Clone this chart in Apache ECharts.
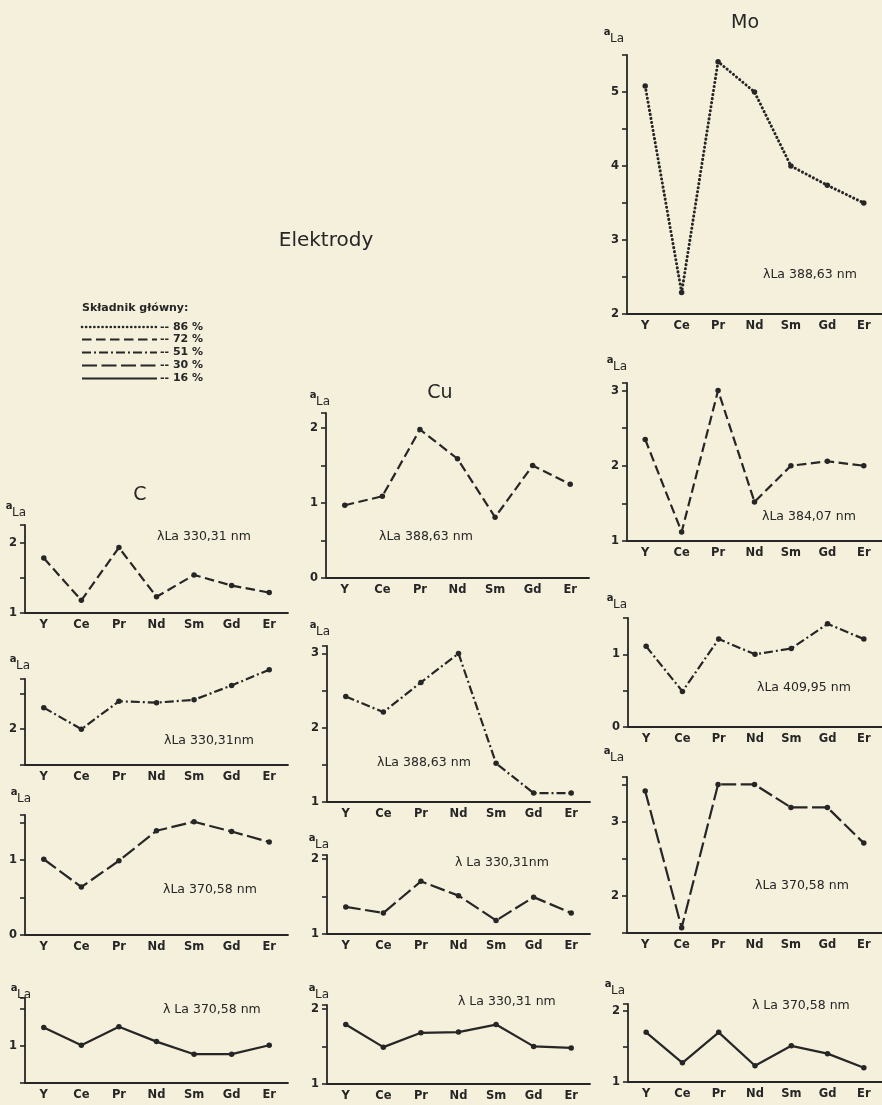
<!DOCTYPE html>
<html>
<head>
<meta charset="utf-8">
<script src="https://cdn.jsdelivr.net/npm/echarts@6/dist/echarts.min.js"></script>
<style>
  html, body { margin: 0; padding: 0; background: #f4f0dc; }
  #chart { width: 882px; height: 1105px; }
</style>
</head>
<body>
<div id="chart"></div>
<script>
// Rare-earth elements on the x axis
const elements = ['Y', 'Ce', 'Pr', 'Nd', 'Sm', 'Gd', 'Er'];

// a_La values, molybdenum electrodes
const moLa388 = [5.08, 2.29, 5.41, 5.00, 4.00, 3.74, 3.50];
const moLa384 = [2.35, 1.12, 3.00, 1.52, 2.00, 2.06, 2.00];
const moLa409 = [1.11, 0.49, 1.21, 1.00, 1.08, 1.42, 1.21];
const moLa370a = [3.41, 1.57, 3.50, 3.50, 3.19, 3.19, 2.71];
const moLa370b = [1.70, 1.27, 1.70, 1.23, 1.51, 1.40, 1.20];

// a_La values, copper electrodes
const cuLa388a = [0.97, 1.09, 1.98, 1.59, 0.81, 1.50, 1.25];
const cuLa388b = [2.42, 2.21, 2.61, 3.00, 1.52, 1.12, 1.12];
const cuLa330a = [1.36, 1.28, 1.70, 1.51, 1.18, 1.49, 1.28];
const cuLa330b = [1.79, 1.49, 1.68, 1.69, 1.79, 1.50, 1.48];

// a_La values, carbon electrodes
const cLa330a = [1.78, 1.18, 1.93, 1.23, 1.54, 1.39, 1.29];
const cLa330b = [2.30, 2.00, 2.39, 2.37, 2.41, 2.61, 2.83];
const cLa370a = [1.01, 0.64, 0.99, 1.39, 1.51, 1.38, 1.24];
const cLa370b = [1.25, 1.01, 1.26, 1.06, 0.89, 0.89, 1.01];

// Main-component shares shown in the key, one per line style
const shares = ['86 %', '72 %', '51 %', '30 %', '16 %'];
const shareStyles = ['dot', 'dash', 'dashDot', 'longDash', 'solid'];

const INK = '#262626';
const FONT = 'DejaVu Sans';

const lineStyles = {
  dot:      { type: [0.1, 4], cap: 'round', width: 3 },
  dash:     { type: [9.5, 4.5], width: 2.2 },
  dashDot:  { type: [9, 3, 2, 3], width: 2.2 },
  longDash: { type: [15, 4.5], width: 2.2 },
  solid:    { type: 'solid', width: 2.2 }
};

// Panel layout: plot box, y range, line style and annotations
const panels = [
  { data: moLa388,  style: 'dot',      left: 627, top: 55,   height: 259, min: 2,   max: 5.5,  lambda: 'λLa 388,63 nm',  lx: 763, ly: 275,  ax: 607, ay: 32 },
  { data: moLa384,  style: 'dash',     left: 627, top: 383,  height: 158, min: 1,   max: 3.1,  lambda: 'λLa 384,07 nm',  lx: 762, ly: 517,  ax: 610, ay: 360 },
  { data: moLa409,  style: 'dashDot',  left: 628, top: 618,  height: 109, min: 0,   max: 1.5,  lambda: 'λLa 409,95 nm',  lx: 757, ly: 688,  ax: 610, ay: 598 },
  { data: moLa370a, style: 'longDash', left: 627, top: 777,  height: 156, min: 1.5, max: 3.6,  lambda: 'λLa 370,58 nm',  lx: 755, ly: 886,  ax: 607, ay: 751 },
  { data: moLa370b, style: 'solid',    left: 628, top: 1004, height: 78,  min: 1,   max: 2.1,  lambda: 'λ La 370,58 nm', lx: 752, ly: 1006, ax: 608, ay: 984 },
  { data: cuLa388a, style: 'dash',     left: 326, top: 413,  height: 165, min: 0,   max: 2.2,  lambda: 'λLa 388,63 nm',  lx: 379, ly: 537,  ax: 313, ay: 395 },
  { data: cuLa388b, style: 'dashDot',  left: 327, top: 646,  height: 156, min: 1,   max: 3.1,  lambda: 'λLa 388,63 nm',  lx: 377, ly: 763,  ax: 313, ay: 625 },
  { data: cuLa330a, style: 'longDash', left: 327, top: 855,  height: 79,  min: 1,   max: 2.05, lambda: 'λ La 330,31nm',  lx: 455, ly: 863,  ax: 312, ay: 838 },
  { data: cuLa330b, style: 'solid',    left: 327, top: 1005, height: 79,  min: 1,   max: 2.05, lambda: 'λ La 330,31 nm', lx: 458, ly: 1002, ax: 312, ay: 988 },
  { data: cLa330a,  style: 'dash',     left: 25,  top: 525,  height: 88,  min: 1,   max: 2.25, lambda: 'λLa 330,31 nm',  lx: 157, ly: 537,  ax: 9,   ay: 506 },
  { data: cLa330b,  style: 'dashDot',  left: 25,  top: 679,  height: 86,  min: 1.5, max: 2.7,  lambda: 'λLa 330,31nm',   lx: 164, ly: 741,  ax: 13,  ay: 659 },
  { data: cLa370a,  style: 'longDash', left: 25,  top: 815,  height: 120, min: 0,   max: 1.6,  lambda: 'λLa 370,58 nm',  lx: 163, ly: 890,  ax: 14,  ay: 792 },
  { data: cLa370b,  style: 'solid',    left: 25,  top: 998,  height: 85,  min: 0.5, max: 1.65, lambda: 'λ La 370,58 nm', lx: 163, ly: 1010, ax: 14,  ay: 988 }
];

const PLOT_W = 263;

const grids = [], xAxes = [], yAxes = [], series = [], graphics = [];

panels.forEach((p, i) => {
  grids.push({ left: p.left, top: p.top, width: PLOT_W, height: p.height });
  xAxes.push({
    type: 'category', gridIndex: i, data: elements, boundaryGap: true,
    axisLine: { lineStyle: { color: INK, width: 1.8 } },
    axisTick: { alignWithLabel: true, length: 4, lineStyle: { color: INK, width: 1.6 } },
    axisLabel: { color: INK, fontFamily: FONT, fontSize: 11.5, fontWeight: 'bold', margin: 6 },
    splitLine: { show: false }
  });
  yAxes.push({
    type: 'value', gridIndex: i, min: p.min, max: p.max, interval: 0.5,
    axisLine: { show: true, lineStyle: { color: INK, width: 1.8 } },
    axisTick: { show: true, length: 5, lineStyle: { color: INK, width: 1.6 } },
    axisLabel: {
      color: INK, fontFamily: FONT, fontSize: 11.5, fontWeight: 'bold', margin: 8,
      formatter: v => Math.abs(v - Math.round(v)) < 1e-6 ? String(Math.round(v)) : ''
    },
    splitLine: { show: false }
  });
  const ls = lineStyles[p.style];
  series.push({
    type: 'line', xAxisIndex: i, yAxisIndex: i, data: p.data,
    symbol: 'circle', symbolSize: 5.5, clip: false, silent: true,
    itemStyle: { color: INK },
    lineStyle: Object.assign({ color: INK }, ls)
  });
  // wavelength label
  graphics.push({
    type: 'text', x: p.lx, y: p.ly,
    style: { text: p.lambda, fill: INK, fontFamily: FONT, fontSize: 12.5, align: 'left', verticalAlign: 'middle' }
  });
  // a_La axis name
  graphics.push({
    type: 'text', x: p.ax, y: p.ay,
    style: { text: 'a', fill: INK, fontFamily: FONT, fontSize: 10, fontWeight: 'bold', align: 'center', verticalAlign: 'middle' }
  });
  graphics.push({
    type: 'text', x: p.ax + 3, y: p.ay + 7,
    style: { text: 'La', fill: INK, fontFamily: FONT, fontSize: 12, align: 'left', verticalAlign: 'middle' }
  });
});

// Panel titles
[['Mo', 745, 23, 19], ['Cu', 440, 393, 19], ['C', 140, 495, 19], ['Elektrody', 326, 241, 20]].forEach(t => {
  graphics.push({
    type: 'text', x: t[1], y: t[2],
    style: { text: t[0], fill: INK, fontFamily: FONT, fontSize: t[3], align: 'center', verticalAlign: 'middle' }
  });
});

// Key for the line styles
graphics.push({
  type: 'text', x: 82, y: 308,
  style: { text: 'Składnik główny:', fill: INK, fontFamily: FONT, fontSize: 11, fontWeight: 'bold', align: 'left', verticalAlign: 'middle' }
});
const keyY = [327, 339.5, 352.5, 365.5, 378.5];
shares.forEach((s, k) => {
  const ls = lineStyles[shareStyles[k]];
  graphics.push({
    type: 'line',
    shape: { x1: 82, y1: keyY[k], x2: 157, y2: keyY[k] },
    style: {
      stroke: INK, lineWidth: ls.width - 0.4,
      lineDash: Array.isArray(ls.type) ? ls.type : null,
      lineCap: ls.cap || 'butt'
    }
  });
  graphics.push({
    type: 'text', x: 160, y: keyY[k],
    style: { text: '-- ' + s, fill: INK, fontFamily: FONT, fontSize: 11, fontWeight: 'bold', align: 'left', verticalAlign: 'middle' }
  });
});

const chart = echarts.init(document.getElementById('chart'), null, { renderer: 'canvas' });
chart.setOption({
  backgroundColor: '#f4f0dc',
  animation: false,
  grid: grids,
  xAxis: xAxes,
  yAxis: yAxes,
  series: series,
  graphic: graphics
});
</script>
</body>
</html>
